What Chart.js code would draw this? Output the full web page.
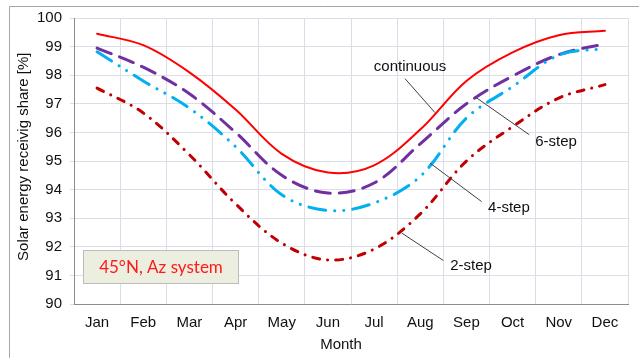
<!DOCTYPE html>
<html>
<head>
<meta charset="utf-8">
<script src="https://cdn.jsdelivr.net/npm/chart.js@4.4.1/dist/chart.umd.min.js"></script>
<style>
  html, body { margin: 0; padding: 0; background: #fff; overflow: hidden; }
  #wrap { position: relative; width: 639px; height: 358px; }
</style>
</head>
<body>
<div id="wrap"><canvas id="c" width="639" height="358"></canvas></div>
<script>
// Monthly share of solar energy received, 45°N azimuth tracking system
const months = ['Jan', 'Feb', 'Mar', 'Apr', 'May', 'Jun', 'Jul', 'Aug', 'Sep', 'Oct', 'Nov', 'Dec'];
const continuous = [99.45, 99.05, 98.1, 96.8, 95.25, 94.6, 94.85, 96.1, 97.8, 98.8, 99.4, 99.55];
const step6 = [98.95, 98.28, 97.35, 96.0, 94.5, 93.88, 94.23, 95.6, 97.0, 97.97, 98.72, 99.1];
const step4 = [98.82, 97.8, 96.85, 95.5, 93.82, 93.27, 93.53, 94.46, 96.5, 97.6, 98.7, 98.93];
const step2 = [97.55, 96.68, 95.22, 93.5, 92.13, 91.54, 91.92, 93.15, 95.0, 96.2, 97.2, 97.67];
const yMin = 90, yMax = 100, yStep = 1;
const xTitle = 'Month';
const yTitle = 'Solar energy receivig share [%]';

// Callout labels: text position and leader line, in axis units (category index, %)
const callouts = [
  { text: 'continuous', tx: 6.78, ty: 98.30, x1: 6.67, y1: 97.88, x2: 7.32, y2: 96.69 },
  { text: '6-step',     tx: 9.94, ty: 95.67, x1: 9.36, y1: 95.92, x2: 8.19, y2: 97.24 },
  { text: '4-step',     tx: 8.92, ty: 93.36, x1: 8.33, y1: 93.58, x2: 7.21, y2: 94.93 },
  { text: '2-step',     tx: 8.10, ty: 91.33, x1: 7.50, y1: 91.52, x2: 6.60, y2: 92.48 }
];
const infoBox = { text: '45°N, Az system', x0: -0.31, x1: 3.06, yTop: 91.89, yBottom: 90.75 };

const FONT = '"Liberation Sans", Arial, sans-serif';
const TEXT = '#111111';

const framePlugin = {
  id: 'frame',
  beforeDraw(chart) {
    const ctx = chart.ctx;
    ctx.save();
    ctx.fillStyle = '#ffffff';
    ctx.fillRect(0, 0, chart.width, chart.height);
    ctx.strokeStyle = '#a6a6a6';
    ctx.lineWidth = 1;
    ctx.beginPath();
    ctx.moveTo(9.5, chart.height);
    ctx.lineTo(9.5, 6.5);
    ctx.lineTo(chart.width, 6.5);
    ctx.stroke();
    ctx.restore();
  }
};

// Axis titles, placed by hand relative to the plot area
const axisTitlePlugin = {
  id: 'axisTitles',
  afterDraw(chart) {
    const ctx = chart.ctx;
    const a = chart.chartArea;
    ctx.save();
    ctx.fillStyle = TEXT;
    ctx.font = '15px ' + FONT;
    ctx.textAlign = 'center';
    ctx.textBaseline = 'middle';
    ctx.fillText(xTitle, a.left + (a.right - a.left) * 0.482, chart.height - 13);
    ctx.translate(23.5, a.top + (a.bottom - a.top) * 0.485);
    ctx.rotate(-Math.PI / 2);
    ctx.fillText(yTitle, 0, 0);
    ctx.restore();
  }
};

const calloutPlugin = {
  id: 'callouts',
  afterDatasetsDraw(chart) {
    const ctx = chart.ctx;
    const xs = chart.scales.x, ys = chart.scales.y;
    ctx.save();
    // info box
    const bx0 = Math.round(xs.getPixelForValue(infoBox.x0)) + 0.5;
    const bx1 = Math.round(xs.getPixelForValue(infoBox.x1)) + 0.5;
    const by0 = Math.round(ys.getPixelForValue(infoBox.yTop)) + 0.5;
    const by1 = Math.round(ys.getPixelForValue(infoBox.yBottom)) + 0.5;
    ctx.fillStyle = '#eceee0';
    ctx.fillRect(bx0, by0, bx1 - bx0, by1 - by0);
    ctx.strokeStyle = '#bcbcbc';
    ctx.lineWidth = 1;
    ctx.strokeRect(bx0, by0, bx1 - bx0, by1 - by0);
    ctx.fillStyle = '#ff1a1a';
    ctx.font = '17px Lato, "Open Sans", sans-serif';
    ctx.textAlign = 'center';
    ctx.textBaseline = 'middle';
    ctx.fillText(infoBox.text, (bx0 + bx1) / 2, (by0 + by1) / 2 + 1);

    // leader lines and labels
    ctx.strokeStyle = '#404040';
    ctx.lineWidth = 1;
    ctx.fillStyle = TEXT;
    ctx.font = '15px ' + FONT;
    callouts.forEach(c => {
      ctx.beginPath();
      ctx.moveTo(xs.getPixelForValue(c.x1), ys.getPixelForValue(c.y1));
      ctx.lineTo(xs.getPixelForValue(c.x2), ys.getPixelForValue(c.y2));
      ctx.stroke();
      ctx.fillText(c.text, xs.getPixelForValue(c.tx), ys.getPixelForValue(c.ty));
    });
    ctx.restore();
  }
};

const lineStyle = (label, data, color, width, dash) => ({
  label, data,
  borderColor: color,
  backgroundColor: color,
  borderWidth: width,
  borderDash: dash,
  borderCapStyle: 'round',
  pointRadius: 0,
  pointHoverRadius: 0,
  fill: false,
  tension: 0.35
});

new Chart(document.getElementById('c'), {
  type: 'line',
  data: {
    labels: months,
    datasets: [
      lineStyle('2-step', step2, '#c00000', 3, [7, 8, 0.1, 8]),
      lineStyle('4-step', step4, '#00b0f0', 3, [17, 9, 0.1, 9, 0.1, 9]),
      lineStyle('6-step', step6, '#7030a0', 3, [15, 9]),
      lineStyle('continuous', continuous, '#ff0000', 2, [])
    ]
  },
  options: {
    responsive: false,
    animation: false,
    events: [],
    layout: { padding: { top: 18, right: 11, left: 0, bottom: 0 } },
    plugins: { legend: { display: false }, tooltip: { enabled: false } },
    scales: {
      x: {
        type: 'category',
        offset: true,
        grid: { offset: true, color: '#d9dee8', drawTicks: false, lineWidth: 1 },
        border: { color: '#8c8c8c', width: 1 },
        ticks: { color: TEXT, font: { family: FONT, size: 15 }, padding: 10, maxRotation: 0, autoSkip: false },
        afterFit(scale) { scale.height = 54; }
      },
      y: {
        min: yMin, max: yMax,
        grid: { color: '#d9dee8', tickLength: 4, lineWidth: 1 },
        border: { color: '#8c8c8c', width: 1 },
        ticks: { stepSize: yStep, color: TEXT, font: { family: FONT, size: 15 }, padding: 8 },
        afterFit(scale) { scale.width = 74; }
      }
    }
  },
  plugins: [framePlugin, calloutPlugin, axisTitlePlugin]
});
</script>
</body>
</html>
